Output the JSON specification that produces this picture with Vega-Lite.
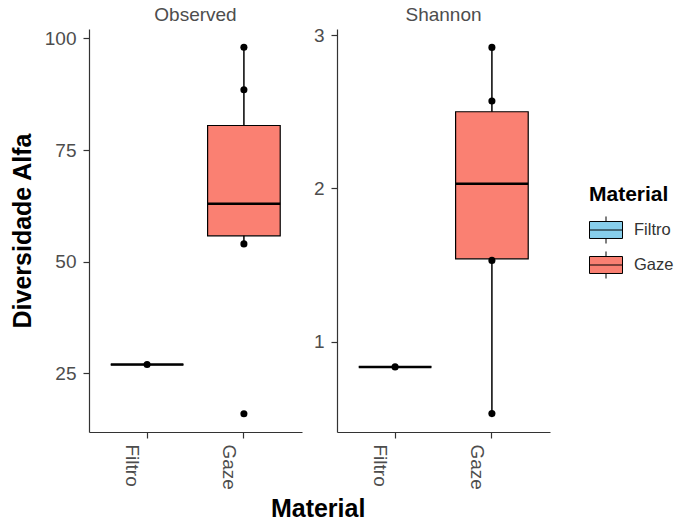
{
  "$schema": "https://vega.github.io/schema/vega-lite/v6.json",
  "background": "white",
  "padding": {"left": 10, "top": 6, "right": 5, "bottom": 5},
  "datasets": {
    "boxes": [
      {"metric": "Observed", "material": "Filtro", "lower": 27, "q1": 27, "median": 27, "q3": 27, "upper": 27},
      {"metric": "Observed", "material": "Gaze", "lower": 54, "q1": 55.8, "median": 63, "q3": 80.5, "upper": 98},
      {"metric": "Shannon", "material": "Filtro", "lower": 0.835, "q1": 0.835, "median": 0.835, "q3": 0.835, "upper": 0.835},
      {"metric": "Shannon", "material": "Gaze", "lower": 0.53, "q1": 1.54, "median": 2.03, "q3": 2.5, "upper": 2.92}
    ],
    "points": [
      {"metric": "Observed", "material": "Filtro", "value": 27},
      {"metric": "Observed", "material": "Gaze", "value": 98},
      {"metric": "Observed", "material": "Gaze", "value": 88.5},
      {"metric": "Observed", "material": "Gaze", "value": 54},
      {"metric": "Observed", "material": "Gaze", "value": 16},
      {"metric": "Shannon", "material": "Filtro", "value": 0.835},
      {"metric": "Shannon", "material": "Gaze", "value": 2.92},
      {"metric": "Shannon", "material": "Gaze", "value": 2.57},
      {"metric": "Shannon", "material": "Gaze", "value": 1.53},
      {"metric": "Shannon", "material": "Gaze", "value": 0.53}
    ]
  },
  "title": {"text": "Material", "orient": "bottom", "anchor": "middle", "fontSize": 25, "fontWeight": "bold", "color": "black", "offset": 8, "dx": -24},
  "hconcat": [
    {
      "width": 213, "height": 403,
      "title": {"text": "Observed", "fontSize": 19, "fontWeight": "normal", "color": "#4D4D4D", "offset": 4, "frame": "group"},
      "encoding": {
        "x": {"field": "material", "type": "nominal", "scale": {"domain": ["Filtro", "Gaze"], "paddingInner": 0.25, "paddingOuter": 0.225}, "axis": {"title": null}}
      },
      "layer": [
        {
          "data": {"name": "boxes"},
          "transform": [{"filter": "datum.metric === 'Observed'"}],
          "mark": {"type": "rule", "color": "black", "strokeWidth": 1.5},
          "encoding": {
            "y": {"field": "lower", "type": "quantitative", "scale": {"domain": [11.9, 102.1], "nice": false, "zero": false}, "axis": {"values": [25, 50, 75, 100], "format": "d", "title": "Diversidade Alfa"}},
            "y2": {"field": "upper"}
          }
        },
        {
          "data": {"name": "boxes"},
          "transform": [{"filter": "datum.metric === 'Observed'"}],
          "mark": {"type": "bar", "stroke": "black", "strokeWidth": 1.2, "opacity": 1},
          "encoding": {
            "y": {"field": "q1", "type": "quantitative", "axis": {"title": "Diversidade Alfa"}},
            "y2": {"field": "q3"},
            "color": {"field": "material", "type": "nominal", "scale": {"domain": ["Filtro", "Gaze"], "range": ["#87CEEB", "#FA8072"]}, "legend": {"title": "Material"}}
          }
        },
        {
          "data": {"name": "boxes"},
          "transform": [{"filter": "datum.metric === 'Observed'"}],
          "mark": {"type": "bar", "stroke": "black", "strokeWidth": 2.5, "fillOpacity": 0},
          "encoding": {
            "y": {"field": "median", "type": "quantitative", "axis": {"title": "Diversidade Alfa"}},
            "y2": {"field": "median"}
          }
        },
        {
          "data": {"name": "points"},
          "transform": [{"filter": "datum.metric === 'Observed'"}],
          "mark": {"type": "circle", "color": "black", "size": 50, "opacity": 1},
          "encoding": {
            "y": {"field": "value", "type": "quantitative", "axis": {"title": "Diversidade Alfa"}}
          }
        }
      ]
    },
    {
      "width": 213, "height": 403,
      "title": {"text": "Shannon", "fontSize": 19, "fontWeight": "normal", "color": "#4D4D4D", "offset": 1, "frame": "group"},
      "encoding": {
        "x": {"field": "material", "type": "nominal", "scale": {"domain": ["Filtro", "Gaze"], "paddingInner": 0.25, "paddingOuter": 0.225}, "axis": {"title": null}}
      },
      "layer": [
        {
          "data": {"name": "boxes"},
          "transform": [{"filter": "datum.metric === 'Shannon'"}],
          "mark": {"type": "rule", "color": "black", "strokeWidth": 1.5},
          "encoding": {
            "y": {"field": "lower", "type": "quantitative", "scale": {"domain": [0.41, 3.04], "nice": false, "zero": false}, "axis": {"values": [1, 2, 3], "format": "d", "title": null}},
            "y2": {"field": "upper"}
          }
        },
        {
          "data": {"name": "boxes"},
          "transform": [{"filter": "datum.metric === 'Shannon'"}],
          "mark": {"type": "bar", "stroke": "black", "strokeWidth": 1.2, "opacity": 1},
          "encoding": {
            "y": {"field": "q1", "type": "quantitative", "axis": {"title": null}},
            "y2": {"field": "q3"},
            "color": {"field": "material", "type": "nominal", "scale": {"domain": ["Filtro", "Gaze"], "range": ["#87CEEB", "#FA8072"]}, "legend": {"title": "Material"}}
          }
        },
        {
          "data": {"name": "boxes"},
          "transform": [{"filter": "datum.metric === 'Shannon'"}],
          "mark": {"type": "bar", "stroke": "black", "strokeWidth": 2.5, "fillOpacity": 0},
          "encoding": {
            "y": {"field": "median", "type": "quantitative", "axis": {"title": null}},
            "y2": {"field": "median"}
          }
        },
        {
          "data": {"name": "points"},
          "transform": [{"filter": "datum.metric === 'Shannon'"}],
          "mark": {"type": "circle", "color": "black", "size": 50, "opacity": 1},
          "encoding": {
            "y": {"field": "value", "type": "quantitative", "axis": {"title": null}}
          }
        }
      ]
    }
  ],
  "spacing": 11,
  "resolve": {"scale": {"color": "shared"}},
  "config": {
    "view": {"stroke": null},
    "font": "Liberation Sans",
    "axis": {
      "grid": false,
      "domainColor": "#333333",
      "domainWidth": 1.2,
      "tickColor": "#333333",
      "tickSize": 6,
      "tickWidth": 1.2,
      "labelColor": "#4D4D4D",
      "labelFontSize": 19,
      "labelPadding": 7,
      "titleFontSize": 25,
      "titleFontWeight": "bold",
      "titleColor": "black"
    },
    "axisX": {"labelAngle": 90, "labelOffset": -15, "labelBaseline": "middle", "labelAlign": "left", "labelPadding": 6},
    "axisY": {"titlePadding": 9},
    "legend": {
      "orient": "none",
      "legendX": 500,
      "legendY": 155,
      "padding": 0,
      "titleFontSize": 21,
      "titleFontWeight": "bold",
      "titleColor": "black",
      "titlePadding": 8,
      "labelFontSize": 16.5,
      "labelColor": "#333333",
      "labelOffset": 11,
      "rowPadding": 2,
      "symbolType": "M-1,-0.515H1V0.515H-1ZM-1,0H1M0,-0.515V-0.82M0,0.515V0.82",
      "symbolSize": 1089,
      "symbolStrokeColor": "black",
      "symbolStrokeWidth": 1
    }
  }
}
